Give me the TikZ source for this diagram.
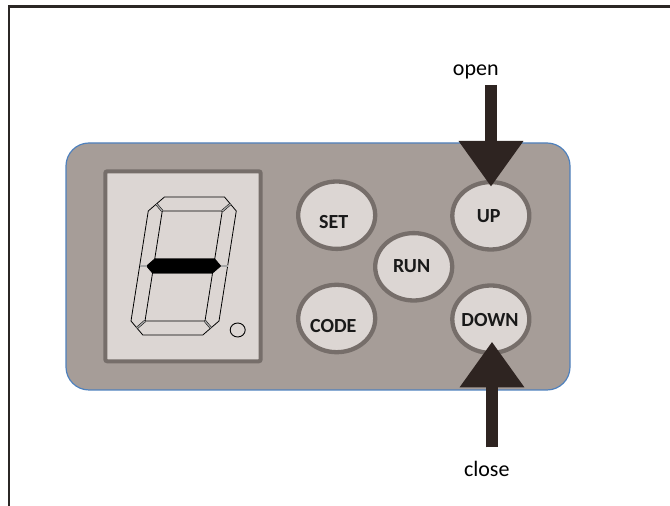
\documentclass[tikz,border=0pt]{standalone}
\usepackage{fontspec}
\setmainfont{Carlito}
\usetikzlibrary{shapes.geometric,arrows.meta}
\definecolor{panelfill}{HTML}{A69D98}
\definecolor{panelline}{HTML}{4F81BD}
\definecolor{lightface}{HTML}{DCD6D3}
\definecolor{rimcol}{HTML}{766E6A}
\definecolor{arrowcol}{HTML}{2E2421}
\definecolor{framecol}{HTML}{2B2725}
\tikzset{
  btn/.style={ellipse, draw=rimcol, line width=4.3pt, fill=lightface,
    minimum width=77pt, minimum height=67.4pt, inner sep=0pt},
  btnlbl/.style={font=\bfseries\fontsize{20}{24}\selectfont, text=black!90, anchor=base, inner sep=0pt},
  caplbl/.style={font=\fontsize{22}{26}\selectfont, text=black, anchor=base, inner sep=0pt},
  bigarrow/.style={draw=arrowcol, line width=11.7pt,
    -{Triangle[width=61.7pt,length=45.7pt]}},
  segline/.style={draw=black, line width=0.8pt, line join=miter},
  sepline/.style={draw=black, line width=0.5pt, double=gray!70, double distance=1.3pt}
}
\begin{document}
\begin{tikzpicture}[x=1pt,y=1pt]
\useasboundingbox (0,0) rectangle (670,506);
% outer frame (left and top only)
\draw[framecol, line width=2.2pt] (9.3,0) |- (670,499.5);
% panel
\node[draw=panelline, line width=1.2pt, fill=panelfill, rounded corners=23pt,
  minimum width=504pt, minimum height=247pt, inner sep=0pt] (panel) at (318,239.5) {};
% display window
\node[draw=rimcol, line width=4pt, fill=lightface, rounded corners=2pt,
  minimum width=155.4pt, minimum height=190pt, inner sep=0pt] (display) at (183,239.7) {};
% seven segment digit
\begin{scope}[shift={(128.8,171)}, xslant=0.157]
  \fill[lightface] (14,0) -- (74,0) -- (88,14) -- (88,124) -- (74,138) -- (14,138) -- (0,124) -- (0,14) -- cycle;
  \draw[segline] (14,0) -- (74,0) -- (88,14) -- (88,124) -- (74,138) -- (14,138) -- (0,124) -- (0,14) -- cycle;
  \draw[segline] (14,76) rectangle (74,124);
  \draw[segline] (14,14) rectangle (74,62);
  \filldraw[segline, fill=black] (7,69) -- (14,76) -- (74,76) -- (81,69) -- (74,62) -- (14,62) -- cycle;
  \draw[sepline] (7,131) -- (14,124);
  \draw[sepline] (81,131) -- (74,124);
  \draw[sepline] (7,7) -- (14,14);
  \draw[sepline] (81,7) -- (74,14);
  \draw[sepline] (0,69) -- (7,69);
  \draw[sepline] (81,69) -- (88,69);
\end{scope}
% decimal point
\node[ellipse, draw=black, line width=0.9pt, fill=lightface, minimum width=15pt,
  minimum height=14pt, inner sep=0pt] (dp) at (237.7,176) {};
% buttons
\node[btn] (set) at (336.7,290.8) {};
\node[btn] (up) at (490.8,290.2) {};
\node[btn] (run) at (413.7,239.2) {};
\node[btn] (code) at (336.7,187.5) {};
\node[btn] (down) at (490.8,186.8) {};
\node[btnlbl] (setlbl) at (333.7,277.7) {SET};
\node[btnlbl] (uplbl) at (488.7,283.3) {UP};
\node[btnlbl] (runlbl) at (411.7,233.3) {RUN};
\node[btnlbl] (codelbl) at (333.3,173.7) {CODE};
\node[btnlbl] (downlbl) at (490,179.3) {DOWN};
% labels
\node[caplbl] (open) at (475.8,430) {open};
\node[caplbl] (close) at (486.8,29.3) {close};
% arrows
\coordinate (opentail) at (491,421);
\coordinate (opentip) at (491,319.3);
\coordinate (closetail) at (492,58.7);
\coordinate (closetip) at (492,164.3);
\draw[bigarrow] (opentail) -- (opentip);
\draw[bigarrow] (closetail) -- (closetip);
\end{tikzpicture}
\end{document}
